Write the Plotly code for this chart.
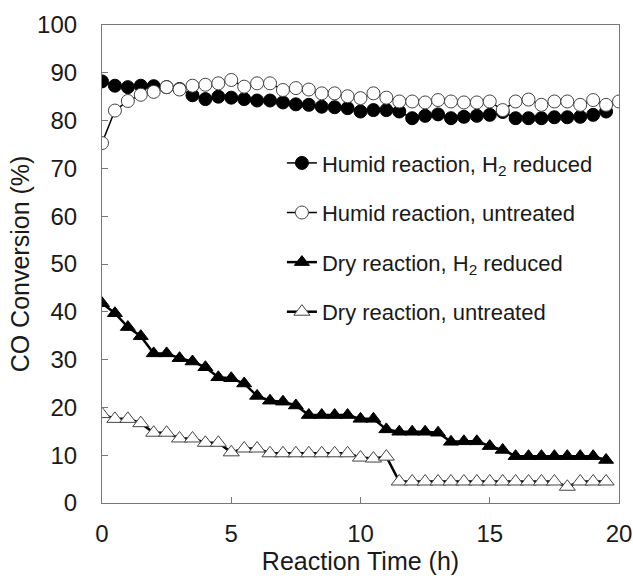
import plotly.graph_objects as go

t_red = [i * 0.5 for i in range(40)]
t_unt = [i * 0.5 for i in range(41)]

humid_reduced = [88.2, 87.3, 87.0, 87.3, 87.2, 87.0, 86.6, 85.3, 84.5, 85.0, 84.8, 84.5,
                 84.2, 84.2, 83.8, 83.4, 83.3, 82.9, 82.8, 82.6, 81.9, 82.2, 82.2, 81.9,
                 80.5, 81.0, 81.3, 80.5, 80.8, 81.0, 81.2, 81.8, 80.5, 80.5, 80.5, 80.7,
                 80.7, 80.8, 81.2, 81.9]
humid_untreated = [75.3, 82.1, 84.1, 85.4, 86.0, 87.0, 86.5, 87.3, 87.5, 87.8, 88.5, 87.1,
                   87.8, 87.8, 86.4, 86.8, 86.5, 85.7, 85.7, 85.1, 84.7, 85.7, 84.8, 84.0,
                   84.0, 83.8, 84.3, 84.0, 83.8, 83.8, 84.0, 82.2, 84.0, 84.4, 83.3, 84.0,
                   84.0, 83.3, 84.3, 83.3, 84.0]
dry_reduced = [41.8, 39.7, 36.8, 34.9, 31.3, 31.3, 30.3, 29.6, 28.4, 26.3, 26.1, 25.0,
               22.4, 21.4, 21.2, 20.4, 18.4, 18.4, 18.4, 18.4, 17.6, 17.6, 15.4, 14.9,
               14.9, 14.9, 14.7, 12.8, 12.9, 12.9, 11.9, 11.1, 9.8, 9.8, 9.8, 9.8,
               9.8, 9.8, 9.8, 9.0]
dry_untreated = [18.6, 17.6, 17.6, 16.7, 14.7, 14.7, 13.5, 13.5, 12.6, 12.6, 10.6, 11.4,
                 11.4, 10.4, 10.4, 10.4, 10.4, 10.4, 10.4, 10.4, 9.5, 9.3, 9.7, 4.5,
                 4.5, 4.5, 4.5, 4.5, 4.5, 4.5, 4.5, 4.5, 4.5, 4.5, 4.5, 4.5,
                 3.4, 4.5, 4.5, 4.5]

names = ["Humid reaction, H<sub>2</sub> reduced", "Humid reaction, untreated",
         "Dry reaction, H<sub>2</sub> reduced", "Dry reaction, untreated"]

FONT = "Liberation Sans, Arial, sans-serif"
TXT = "#1a1a1a"
fig = go.Figure()

fig.add_trace(go.Scatter(x=t_red, y=humid_reduced, mode="lines+markers", name=names[0],
                         legendgroup="a",
                         line=dict(color="black", width=1.5),
                         marker=dict(symbol="circle", size=13, color="black",
                                     line=dict(color="black", width=1))))
fig.add_trace(go.Scatter(x=t_unt, y=humid_untreated, mode="lines+markers", name=names[1],
                         legendgroup="b",
                         line=dict(color="black", width=1.5),
                         marker=dict(symbol="circle", size=13, color="white",
                                     line=dict(color="#444", width=1))))
fig.add_trace(go.Scatter(x=t_red, y=dry_reduced, mode="lines+markers", name=names[2],
                         legendgroup="c",
                         line=dict(color="black", width=2.5),
                         marker=dict(symbol="triangle-up", size=13, color="black",
                                     line=dict(color="black", width=1))))
fig.add_trace(go.Scatter(x=t_red, y=dry_untreated, mode="lines+markers", name=names[3],
                         legendgroup="d",
                         line=dict(color="black", width=2.5),
                         marker=dict(symbol="triangle-up", size=14, color="white",
                                     line=dict(color="#444", width=1))))

axis_common = dict(showline=True, linecolor="#777", linewidth=1.2, mirror=True,
                   ticks="inside", ticklen=6, tickcolor="#777", showgrid=False,
                   zeroline=False, automargin=False,
                   tickfont=dict(family=FONT, size=24, color=TXT))

fig.update_xaxes(range=[0, 20], tickvals=[0, 5, 10, 15, 20],
                 title=dict(text="Reaction Time (h)", font=dict(family=FONT, size=25, color=TXT),
                            standoff=6),
                 ticklabelstandoff=9, **axis_common)
fig.update_yaxes(range=[0, 100], tickvals=list(range(0, 101, 10)),
                 title=dict(text="CO Conversion (%)", font=dict(family=FONT, size=25, color=TXT),
                            standoff=0),
                 ticklabelstandoff=19, **axis_common)

fig.update_layout(
    width=633, height=580,
    margin=dict(l=102, r=14, t=25, b=77),
    plot_bgcolor="white", paper_bgcolor="white",
    font=dict(family=FONT, color=TXT),
    legend=dict(x=0.348, y=0.755, xanchor="left", yanchor="top",
                font=dict(family=FONT, size=22, color=TXT),
                bgcolor="rgba(0,0,0,0)", tracegroupgap=18),
)

fig.write_html("out.html")
